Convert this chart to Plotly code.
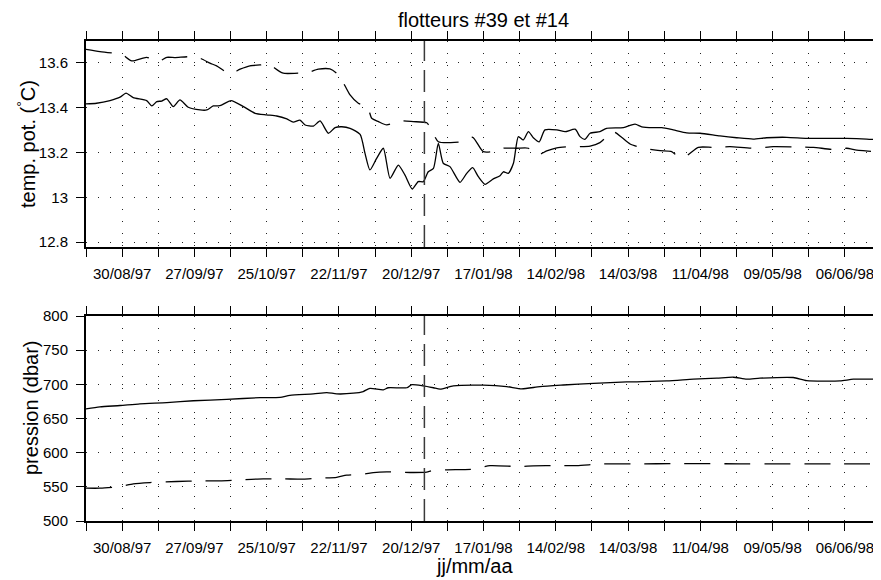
import pandas as pd
import plotly.graph_objects as go

# ---- data (jour = days since 1997-01-01) ----
ORIGINE = "1997-01-01"

jour_t39 = [227.0, 231.1, 236.3, 240.2, 242.5, 245.3, 250.5, 252.5, 254.4, 256.3, 258.3, 260.8,
            263.4, 266.6, 271.2, 273.8, 276.3, 278.9, 283.2, 288.0, 292.5, 297.0, 300.9, 304.8,
            307.3, 309.9, 311.9, 315.1, 317.7, 320.9, 323.5, 326.1, 329.3, 333.2, 335.1, 337.0,
            339.6, 342.2, 344.8, 348.0, 350.6, 353.4, 355.7, 357.7, 359.6, 361.6, 363.5, 365.4,
            368.0, 371.9, 374.5, 376.8, 379.0, 381.6, 384.8, 387.4, 388.7, 390.6, 392.6, 394.5,
            396.4, 398.4, 400.3, 402.6, 404.8, 409.4, 412.6, 416.5, 418.4, 420.3, 422.3, 426.1,
            428.7, 435.2, 439.7, 442.3, 446.8, 450.1, 454.5, 459.7, 464.9, 472.6, 479.1, 485.5,
            490.7, 498.5, 506.2, 514.0, 521.7, 529.5, 534.6]
temp_39 = [13.417, 13.420, 13.432, 13.447, 13.465, 13.445, 13.432, 13.408, 13.427, 13.430, 13.440, 13.405,
           13.435, 13.402, 13.390, 13.390, 13.408, 13.409, 13.432, 13.405, 13.375, 13.368, 13.363, 13.350,
           13.336, 13.345, 13.323, 13.318, 13.341, 13.286, 13.311, 13.315, 13.308, 13.281, 13.196, 13.122,
           13.174, 13.219, 13.085, 13.144, 13.099, 13.037, 13.070, 13.070, 13.114, 13.129, 13.241, 13.152,
           13.137, 13.067, 13.107, 13.132, 13.092, 13.058, 13.082, 13.096, 13.114, 13.107, 13.152, 13.271,
           13.256, 13.293, 13.266, 13.248, 13.301, 13.301, 13.293, 13.304, 13.271, 13.259, 13.286, 13.293,
           13.308, 13.311, 13.327, 13.315, 13.311, 13.311, 13.301, 13.288, 13.286, 13.274, 13.266, 13.260,
           13.266, 13.268, 13.263, 13.263, 13.263, 13.260, 13.256]

jour_t14 = [227.0, 232.4, 238.2, 240.8, 244.7, 250.5, 255.0, 258.3, 261.5, 267.3, 271.2, 275.0,
            277.6, 282.8, 286.7, 290.5, 294.4, 298.3, 300.2, 303.4, 309.9, 311.2, 317.0, 321.5,
            324.1, 326.1, 329.3, 332.5, 336.0, 337.7, 340.3, 343.5, 348.7, 353.8, 359.0, 360.3,
            363.5, 368.3, 372.6, 376.8, 380.9, 386.1, 388.7, 393.9, 398.4, 400.3, 402.2, 405.5,
            409.4, 414.5, 418.4, 422.3, 426.1, 431.3, 434.5, 437.8, 442.9, 449.4, 453.9, 456.5,
            459.1, 464.2, 469.9, 476.5, 485.5, 493.2, 501.1, 508.8, 516.5, 521.7, 525.6, 532.0, 534.6]
temp_14 = [13.661, 13.651, 13.643, 13.640, 13.609, 13.625, 13.606, 13.625, 13.624, 13.628, 13.621, 13.599,
           13.587, 13.551, 13.572, 13.587, 13.591, 13.596, 13.576, 13.554, 13.554, 13.551, 13.572, 13.573,
           13.554, 13.524, 13.457, 13.420, 13.405, 13.353, 13.338, 13.323, 13.341, 13.338, 13.333, 13.313,
           13.248, 13.244, 13.248, 13.268, 13.204, 13.207, 13.219, 13.219, 13.219, 13.199, 13.189, 13.207,
           13.221, 13.226, 13.226, 13.229, 13.244, 13.293, 13.268, 13.238, 13.219, 13.208, 13.204, 13.181,
           13.181, 13.223, 13.223, 13.226, 13.219, 13.226, 13.225, 13.223, 13.214, 13.219, 13.211, 13.204, 13.193]

jour_p39 = [227.0, 232.4, 240.2, 247.9, 258.3, 268.6, 281.5, 294.4, 302.2, 306.0, 315.1, 320.3,
            324.1, 330.6, 334.4, 337.0, 342.2, 344.1, 351.3, 353.2, 357.7, 361.6, 364.2, 369.3,
            380.9, 390.0, 395.8, 402.9, 411.9, 423.6, 436.5, 452.0, 462.3, 471.4, 477.8, 483.0,
            488.1, 501.0, 506.2, 519.1, 524.3, 535.0]
pres_39 = [664.0, 667.0, 669.0, 671.5, 673.3, 676.0, 678.0, 680.5, 681.0, 684.0, 686.0, 688.0,
           686.0, 687.0, 689.5, 694.0, 692.0, 695.0, 695.0, 699.6, 697.7, 695.0, 693.0, 697.7,
           698.7, 696.7, 693.3, 696.7, 699.0, 701.5, 703.5, 705.0, 707.5, 709.0, 710.4, 707.5,
           709.0, 710.0, 705.4, 705.0, 707.5, 707.5]

jour_p14 = [227.0, 232.4, 240.2, 245.3, 251.8, 262.1, 271.2, 278.9, 286.7, 295.7, 303.4, 311.2,
            317.7, 324.1, 328.0, 334.4, 338.3, 343.5, 352.5, 359.0, 360.9, 366.8, 377.1, 383.5,
            394.5, 400.3, 410.0, 417.1, 427.4, 441.6, 454.5, 467.5, 480.4, 493.3, 506.2, 519.1, 535.0]
pres_14 = [548.0, 548.0, 550.5, 554.4, 556.3, 557.8, 558.8, 558.8, 560.2, 561.7, 561.7, 561.2,
           562.7, 564.0, 567.0, 568.5, 570.9, 572.0, 571.0, 571.5, 573.4, 574.9, 575.9, 581.0,
           579.7, 580.7, 581.1, 581.1, 583.6, 583.6, 584.0, 584.0, 583.6, 583.6, 583.6, 583.6, 583.6]

jour_evenement = 358.1
jour_debut, jour_fin = 227, 535
pas_ticks = 14

temp_ticks = [12.8, 13.0, 13.2, 13.4, 13.6]
temp_ticktext = ["12.8", "13", "13.2", "13.4", "13.6"]
pres_ticks = [500, 550, 600, 650, 700, 750, 800]

titre = "flotteurs #39 et #14"
label_temp = "temp. pot. (<sup>°</sup>C)"
label_pres = "pression (dbar)"
label_x = "jj/mm/aa"

# ---- build ----
orig = pd.Timestamp(ORIGINE)


def to_date(j):
    return orig + pd.to_timedelta(pd.Series(j, dtype=float), unit="D")


tick_jours = list(range(jour_debut, jour_fin + 1, pas_ticks))
tick_dates = list(to_date(tick_jours))
major_dates = [d for i, d in enumerate(tick_dates) if i % 2 == 1]
major_text = [d.strftime("%d/%m/%y") for d in major_dates]
minor_dates = [d for i, d in enumerate(tick_dates) if i % 2 == 0]
x_range = [orig + pd.Timedelta(days=jour_debut), orig + pd.Timedelta(days=jour_fin)]
ev = orig + pd.Timedelta(days=jour_evenement)

FONT = "Liberation Sans, Arial, Helvetica, sans-serif"
DASH = "26px,14px"
GRID = dict(showgrid=True, gridcolor="#222", gridwidth=1, griddash="1px,11px")

# page body has an 8px default margin: figure is 873x572 placed at (8, 8)
W, H, OFF = 873, 572, 8
L, T, B = 86 - OFF, 41 - OFF, 59
PW, PH = W - L, H - T - B   # 795 x 480


def px_x(sx):
    return (sx - OFF - L) / PW


def px_y(sy):
    return (H - B - (sy - OFF)) / PH


fig = go.Figure()
LINE = dict(color="black", width=1.3, shape="spline", smoothing=0.6)
fig.add_trace(go.Scatter(x=to_date(jour_t39), y=temp_39, mode="lines",
                         line=LINE, xaxis="x", yaxis="y"))
fig.add_trace(go.Scatter(x=to_date(jour_t14), y=temp_14, mode="lines",
                         line=dict(LINE, dash=DASH), xaxis="x", yaxis="y"))
fig.add_trace(go.Scatter(x=to_date(jour_p39), y=pres_39, mode="lines",
                         line=LINE, xaxis="x2", yaxis="y2"))
fig.add_trace(go.Scatter(x=to_date(jour_p14), y=pres_14, mode="lines",
                         line=dict(LINE, dash=DASH), xaxis="x2", yaxis="y2"))

for xr, yr in (("x", "y domain"), ("x2", "y2 domain")):
    fig.add_shape(type="line", xref=xr, yref=yr, x0=ev, x1=ev, y0=0, y1=1,
                  line=dict(color="#3a3a3a", width=1.5, dash="22px,9px"))

xcommon = dict(type="date", range=x_range, tickvals=major_dates, ticktext=major_text,
               ticks="outside", ticklen=8, tickwidth=1.2, tickcolor="black",
               minor=dict(tickvals=minor_dates, ticks="outside", ticklen=8, tickwidth=1.2,
                          tickcolor="black", **GRID),
               showline=True, linewidth=2, linecolor="black", mirror="ticks",
               zeroline=False, automargin=False,
               tickfont=dict(size=15, color="black"), ticklabelstandoff=4, **GRID)
ycommon = dict(ticks="outside", ticklen=8, tickwidth=1.2, tickcolor="black",
               showline=True, linewidth=2, linecolor="black", automargin=False,
               zeroline=False, tickfont=dict(size=15, color="black"), ticklabelstandoff=5, **GRID)

fig.update_layout(
    width=W, height=H,
    margin=dict(l=L, r=0, t=T, b=B, autoexpand=False),
    paper_bgcolor="white", plot_bgcolor="white",
    showlegend=False,
    font=dict(family=FONT, color="black"),
    xaxis=dict(anchor="y", domain=[0, 1], **xcommon),
    xaxis2=dict(anchor="y2", domain=[0, 1], **xcommon),
    yaxis=dict(anchor="x", domain=[px_y(247), 1], range=[12.778, 13.698],
               tickvals=temp_ticks, ticktext=temp_ticktext, **ycommon),
    yaxis2=dict(anchor="x2", domain=[0, px_y(316)], range=[500, 800],
                tickvals=pres_ticks, **ycommon),
    title=dict(text=titre, x=0.5, xref="paper", xanchor="center",
               y=1 - (20 - OFF) / H, yanchor="middle", font=dict(size=20, color="black")),
    annotations=[
        dict(text=label_temp, xref="paper", yref="paper", x=px_x(26), y=px_y(144),
             xanchor="center", yanchor="middle", textangle=-90, showarrow=False,
             font=dict(size=20, color="black")),
        dict(text=label_pres, xref="paper", yref="paper", x=px_x(31), y=px_y(408),
             xanchor="center", yanchor="middle", textangle=-90, showarrow=False,
             font=dict(size=20, color="black")),
        dict(text=label_x, xref="paper", yref="paper", x=px_x(474), y=px_y(566),
             xanchor="center", yanchor="middle", showarrow=False,
             font=dict(size=20, color="black")),
    ],
)

fig.write_html("out.html")
